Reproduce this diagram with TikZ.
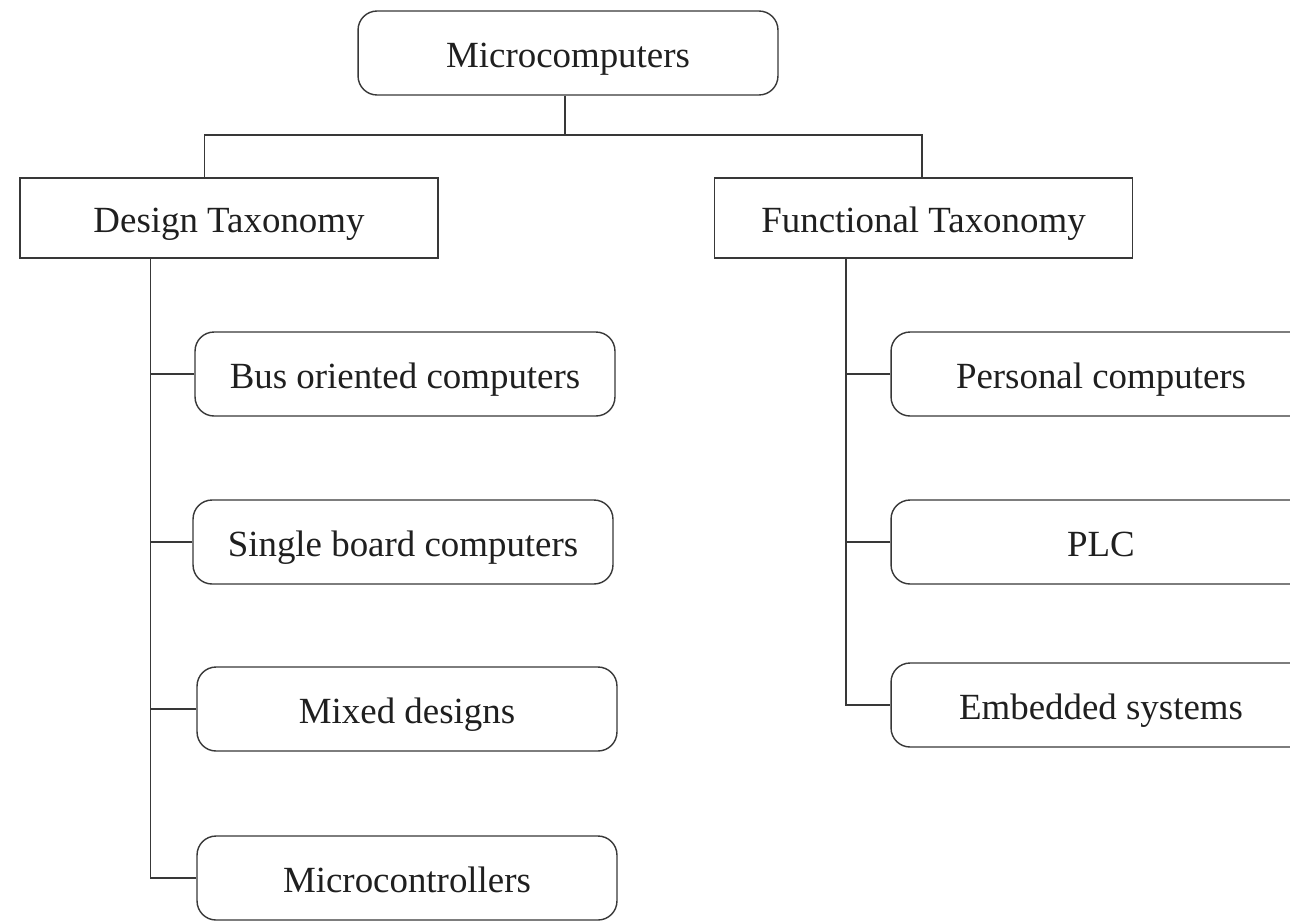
\documentclass[tikz,border=0pt]{standalone}
\usepackage{fontspec}
\setmainfont{Liberation Serif}
\begin{document}
\begin{tikzpicture}[x=0.02cm,y=-0.02cm,
  line width=0.8pt,
  every node/.style={font=\fontsize{21}{25}\selectfont, text=black!88, text height=16.5pt, text depth=0pt},
  rbox/.style={draw=black!78, rounded corners=0.38cm, minimum width=8.4cm, minimum height=1.68cm, inner sep=0pt},
  sbox/.style={draw=black!78, minimum width=8.36cm, minimum height=1.6cm, inner sep=0pt},
  conn/.style={draw=black!78, line width=0.8pt}]
\useasboundingbox (0,0) rectangle (1290,920);
\clip (0,0) rectangle (1290,920);
\node[rbox] (mc) at (568,53) {Microcomputers};
\node[sbox] (dt) at (229,218) {Design Taxonomy};
\node[sbox] (ft) at (923.5,218) {Functional Taxonomy};
\node[rbox] (bus) at (405,374) {Bus oriented computers};
\node[rbox] (sbc) at (403,542) {Single board computers};
\node[rbox] (mix) at (407,709) {Mixed designs};
\node[rbox] (mcu) at (407,878) {Microcontrollers};
\node[rbox] (pc) at (1101,374) {Personal computers};
\node[rbox] (plc) at (1101,542) {PLC};
\node[rbox] (emb) at (1101,705) {Embedded systems};
\coordinate (j) at (565,135);
\draw[conn] (mc.south -| j) -- (j);
\draw[conn] ([xshift=3.7cm]dt.north west) |- (j) -| ([xshift=4.16cm]ft.north west);
\coordinate (dl) at ([xshift=2.62cm]dt.south west);
\draw[conn] (dl) |- (mcu.west);
\draw[conn] (bus.west) -- (bus.west -| dl);
\draw[conn] (sbc.west) -- (sbc.west -| dl);
\draw[conn] (mix.west) -- (mix.west -| dl);
\coordinate (fl) at ([xshift=2.64cm]ft.south west);
\draw[conn] (fl) |- (emb.west);
\draw[conn] (pc.west) -- (pc.west -| fl);
\draw[conn] (plc.west) -- (plc.west -| fl);
\end{tikzpicture}
\end{document}
